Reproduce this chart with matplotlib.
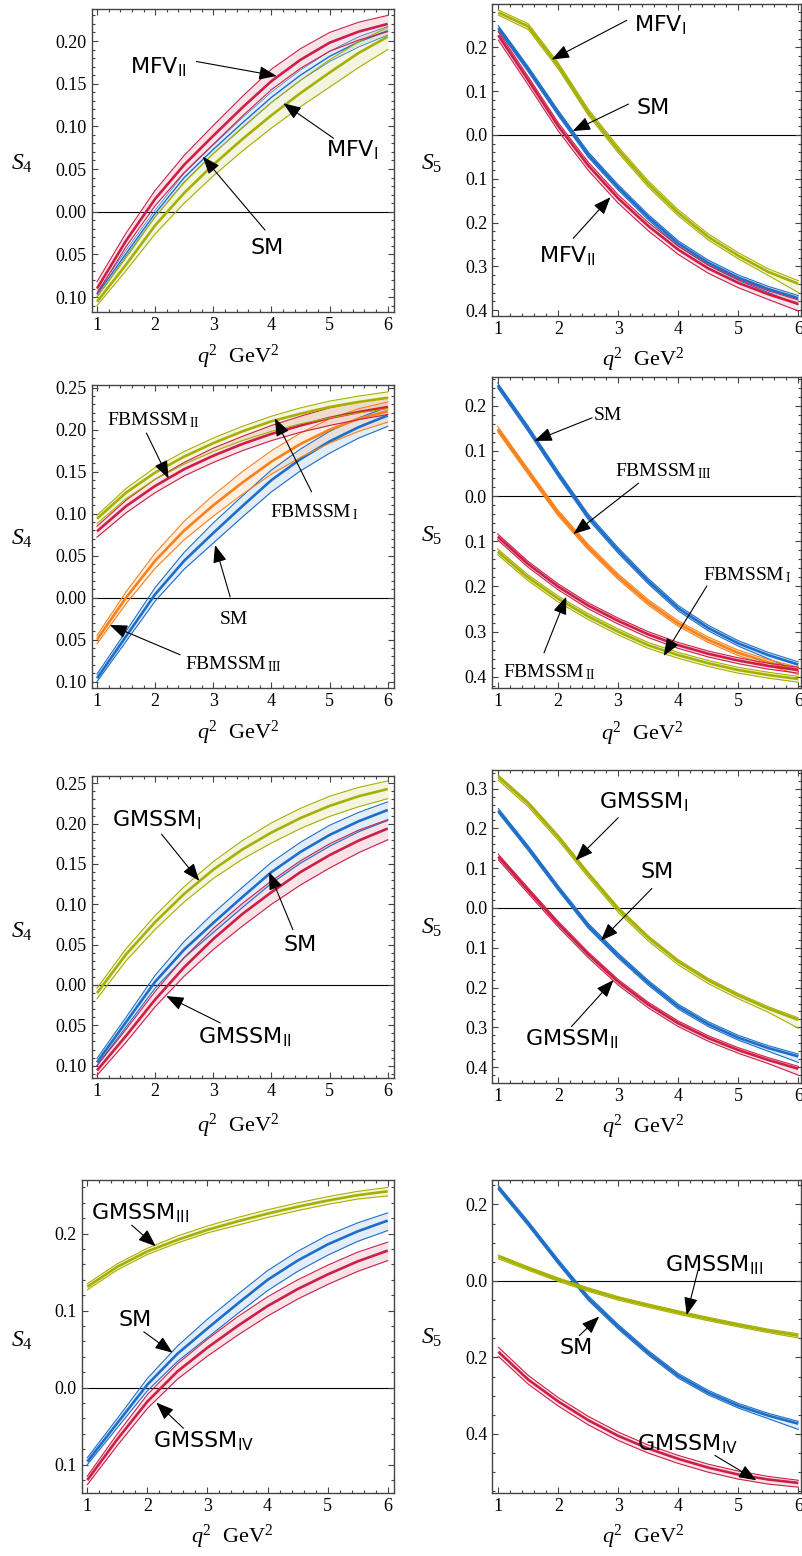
import matplotlib
matplotlib.use("Agg")
import matplotlib.pyplot as plt
from matplotlib.ticker import MultipleLocator

plt.rcParams['mathtext.fontset'] = 'custom'
plt.rcParams['mathtext.rm'] = 'Liberation Serif'
plt.rcParams['mathtext.it'] = 'Liberation Serif:italic'
plt.rcParams['mathtext.bf'] = 'Liberation Serif:bold'

# ---------------- data ----------------
Q = [1.0, 1.5, 2.0, 2.5, 3.0, 3.5, 4.0, 4.5, 5.0, 5.5, 6.0]

# SM S4 (shared, panels 3,5,7)
SM4_LO = [-0.100, -0.052, -0.004, 0.034, 0.065, 0.096, 0.126, 0.151, 0.172, 0.190, 0.204]
SM4_MID = [-0.096, -0.046, 0.004, 0.044, 0.077, 0.109, 0.140, 0.165, 0.186, 0.203, 0.217]
SM4_HI = [-0.091, -0.040, 0.012, 0.054, 0.089, 0.121, 0.152, 0.177, 0.198, 0.214, 0.227]
# SM S5 (shared, panels 2,4,6,8)
SM5_LO = [0.239, 0.144, 0.044, -0.051, -0.126, -0.194, -0.254, -0.298, -0.332, -0.360, -0.388]
SM5_MID = [0.245, 0.150, 0.050, -0.045, -0.120, -0.188, -0.248, -0.292, -0.326, -0.352, -0.373]
SM5_HI = [0.250, 0.156, 0.056, -0.039, -0.114, -0.182, -0.242, -0.286, -0.320, -0.346, -0.367]

# Panel 1: S4, MFV
P1_SM_LO = [-0.100, -0.052, -0.006, 0.035, 0.068, 0.098, 0.128, 0.154, 0.176, 0.193, 0.207]
P1_SM_MID = [-0.097, -0.049, -0.002, 0.040, 0.073, 0.104, 0.134, 0.160, 0.182, 0.199, 0.212]
P1_SM_HI = [-0.094, -0.045, 0.002, 0.045, 0.078, 0.110, 0.140, 0.166, 0.188, 0.205, 0.217]
P1_MFV1_LO = [-0.110, -0.069, -0.026, 0.010, 0.042, 0.071, 0.098, 0.123, 0.146, 0.169, 0.190]
P1_MFV1_MID = [-0.1055, -0.062, -0.016, 0.022, 0.055, 0.085, 0.113, 0.139, 0.163, 0.186, 0.205]
P1_MFV1_HI = [-0.100, -0.054, -0.006, 0.034, 0.068, 0.099, 0.128, 0.154, 0.178, 0.199, 0.216]
P1_MFV2_LO = [-0.096, -0.041, 0.007, 0.046, 0.079, 0.112, 0.143, 0.168, 0.188, 0.201, 0.211]
P1_MFV2_MID = [-0.090, -0.034, 0.015, 0.055, 0.089, 0.122, 0.153, 0.178, 0.198, 0.211, 0.220]
P1_MFV2_HI = [-0.082, -0.025, 0.025, 0.066, 0.101, 0.135, 0.167, 0.191, 0.210, 0.222, 0.230]

# Panel 2: S5, MFV
P2_MFV1_LO = [0.274, 0.241, 0.151, 0.045, -0.041, -0.119, -0.185, -0.240, -0.283, -0.321, -0.360]
P2_MFV1_MID = [0.280, 0.248, 0.158, 0.052, -0.034, -0.112, -0.178, -0.233, -0.276, -0.313, -0.340]
P2_MFV1_HI = [0.286, 0.254, 0.165, 0.059, -0.027, -0.105, -0.171, -0.226, -0.269, -0.306, -0.333]
P2_MFV2_LO = [0.217, 0.114, 0.009, -0.081, -0.156, -0.219, -0.273, -0.316, -0.349, -0.376, -0.402]
P2_MFV2_MID = [0.228, 0.125, 0.020, -0.070, -0.145, -0.208, -0.262, -0.305, -0.338, -0.364, -0.386]
P2_MFV2_HI = [0.236, 0.133, 0.028, -0.062, -0.137, -0.200, -0.254, -0.297, -0.330, -0.356, -0.377]

# Panel 3: S4, FBMSSM
P3_G_LO = [0.088, 0.118, 0.141, 0.159, 0.174, 0.187, 0.198, 0.207, 0.214, 0.220, 0.225]
P3_G_MID = [0.094, 0.125, 0.149, 0.168, 0.184, 0.198, 0.210, 0.219, 0.227, 0.233, 0.238]
P3_G_HI = [0.098, 0.130, 0.155, 0.174, 0.190, 0.204, 0.216, 0.226, 0.234, 0.240, 0.245]
P3_R_LO = [0.072, 0.101, 0.125, 0.145, 0.161, 0.175, 0.187, 0.197, 0.205, 0.212, 0.218]
P3_R_MID = [0.079, 0.109, 0.133, 0.153, 0.169, 0.183, 0.195, 0.205, 0.214, 0.221, 0.227]
P3_R_HI = [0.085, 0.116, 0.141, 0.161, 0.178, 0.192, 0.205, 0.216, 0.226, 0.233, 0.238]
P3_O_LO = [-0.055, -0.007, 0.035, 0.069, 0.097, 0.123, 0.147, 0.167, 0.184, 0.198, 0.209]
P3_O_MID = [-0.050, 0.000, 0.044, 0.080, 0.110, 0.137, 0.162, 0.183, 0.200, 0.213, 0.222]
P3_O_HI = [-0.045, 0.007, 0.053, 0.091, 0.122, 0.150, 0.175, 0.196, 0.213, 0.225, 0.233]

# Panel 4: S5, FBMSSM
P4_O_LO = [0.142, 0.049, -0.043, -0.118, -0.184, -0.241, -0.288, -0.324, -0.353, -0.375, -0.395]
P4_O_MID = [0.148, 0.055, -0.037, -0.112, -0.178, -0.235, -0.282, -0.318, -0.347, -0.368, -0.385]
P4_O_HI = [0.154, 0.061, -0.031, -0.106, -0.172, -0.229, -0.276, -0.312, -0.341, -0.362, -0.379]
P4_R_LO = [-0.097, -0.157, -0.207, -0.249, -0.283, -0.313, -0.337, -0.356, -0.371, -0.383, -0.392]
P4_R_MID = [-0.090, -0.150, -0.200, -0.242, -0.276, -0.306, -0.330, -0.349, -0.364, -0.376, -0.385]
P4_R_HI = [-0.084, -0.144, -0.194, -0.236, -0.270, -0.300, -0.324, -0.343, -0.358, -0.370, -0.379]
P4_G_LO = [-0.130, -0.187, -0.234, -0.273, -0.307, -0.337, -0.359, -0.377, -0.392, -0.403, -0.412]
P4_G_MID = [-0.123, -0.180, -0.227, -0.266, -0.300, -0.330, -0.352, -0.370, -0.385, -0.396, -0.405]
P4_G_HI = [-0.117, -0.174, -0.221, -0.260, -0.294, -0.324, -0.346, -0.364, -0.379, -0.390, -0.399]

# Panel 5: S4, GMSSM I/II
P5_G_LO = [-0.017, 0.030, 0.069, 0.103, 0.132, 0.156, 0.176, 0.194, 0.209, 0.221, 0.231]
P5_G_MID = [-0.010, 0.038, 0.078, 0.113, 0.143, 0.168, 0.189, 0.207, 0.222, 0.234, 0.243]
P5_G_HI = [-0.004, 0.045, 0.086, 0.122, 0.153, 0.179, 0.201, 0.219, 0.234, 0.245, 0.253]
P5_R_LO = [-0.112, -0.071, -0.027, 0.011, 0.044, 0.073, 0.100, 0.124, 0.145, 0.164, 0.180]
P5_R_MID = [-0.106, -0.063, -0.018, 0.022, 0.057, 0.088, 0.115, 0.140, 0.161, 0.179, 0.194]
P5_R_HI = [-0.100, -0.055, -0.008, 0.034, 0.070, 0.101, 0.129, 0.154, 0.175, 0.192, 0.205]

# Panel 6: S5, GMSSM I/II
P6_G_LO = [0.321, 0.254, 0.170, 0.077, -0.011, -0.083, -0.143, -0.190, -0.228, -0.262, -0.302]
P6_G_MID = [0.329, 0.262, 0.178, 0.085, -0.003, -0.075, -0.135, -0.182, -0.220, -0.253, -0.281]
P6_G_HI = [0.334, 0.267, 0.183, 0.090, 0.002, -0.070, -0.130, -0.177, -0.215, -0.248, -0.276]
P6_R_LO = [0.121, 0.036, -0.048, -0.125, -0.194, -0.251, -0.298, -0.335, -0.365, -0.391, -0.420]
P6_R_MID = [0.129, 0.044, -0.040, -0.117, -0.186, -0.243, -0.290, -0.327, -0.357, -0.382, -0.404]
P6_R_HI = [0.135, 0.050, -0.034, -0.111, -0.180, -0.237, -0.284, -0.321, -0.351, -0.376, -0.398]

# Panel 7: S4, GMSSM III/IV
P7_G_LO = [0.127, 0.153, 0.173, 0.188, 0.201, 0.211, 0.221, 0.230, 0.238, 0.245, 0.249]
P7_G_MID = [0.131, 0.157, 0.177, 0.192, 0.205, 0.216, 0.226, 0.235, 0.243, 0.250, 0.255]
P7_G_HI = [0.135, 0.161, 0.181, 0.197, 0.210, 0.221, 0.231, 0.240, 0.248, 0.255, 0.260]
P7_R_LO = [-0.126, -0.075, -0.027, 0.011, 0.041, 0.068, 0.093, 0.115, 0.134, 0.151, 0.165]
P7_R_MID = [-0.120, -0.067, -0.018, 0.021, 0.052, 0.080, 0.106, 0.128, 0.147, 0.164, 0.178]
P7_R_HI = [-0.115, -0.060, -0.009, 0.031, 0.063, 0.092, 0.118, 0.140, 0.159, 0.176, 0.189]

# Panel 8: S5, GMSSM III/IV
P8_G_LO = [0.058, 0.028, -0.001, -0.027, -0.050, -0.069, -0.087, -0.104, -0.120, -0.135, -0.149]
P8_G_MID = [0.064, 0.033, 0.004, -0.022, -0.045, -0.064, -0.082, -0.099, -0.115, -0.130, -0.143]
P8_G_HI = [0.068, 0.037, 0.008, -0.018, -0.041, -0.060, -0.078, -0.095, -0.111, -0.126, -0.138]
P8_R_LO = [-0.197, -0.270, -0.327, -0.376, -0.417, -0.450, -0.477, -0.500, -0.518, -0.531, -0.539]
P8_R_MID = [-0.185, -0.258, -0.315, -0.364, -0.405, -0.438, -0.465, -0.488, -0.506, -0.519, -0.528]
P8_R_HI = [-0.173, -0.247, -0.305, -0.354, -0.395, -0.429, -0.456, -0.479, -0.497, -0.511, -0.521]

# tick values and labels
X_TICKS = [1, 2, 3, 4, 5, 6]
X_LABELS = ["1", "2", "3", "4", "5", "6"]
YT_A = [-0.10, -0.05, 0.00, 0.05, 0.10, 0.15, 0.20]
YL_A = ["0.10", "0.05", "0.00", "0.05", "0.10", "0.15", "0.20"]
YT_B = [-0.4, -0.3, -0.2, -0.1, 0.0, 0.1, 0.2]
YL_B = ["0.4", "0.3", "0.2", "0.1", "0.0", "0.1", "0.2"]
YT_C = [-0.10, -0.05, 0.00, 0.05, 0.10, 0.15, 0.20, 0.25]
YL_C = ["0.10", "0.05", "0.00", "0.05", "0.10", "0.15", "0.20", "0.25"]
YT_D = [-0.4, -0.3, -0.2, -0.1, 0.0, 0.1, 0.2, 0.3]
YL_D = ["0.4", "0.3", "0.2", "0.1", "0.0", "0.1", "0.2", "0.3"]
YT_E = [-0.1, 0.0, 0.1, 0.2]
YL_E = ["0.1", "0.0", "0.1", "0.2"]
YT_F = [-0.4, -0.2, 0.0, 0.2]
YL_F = ["0.4", "0.2", "0.0", "0.2"]

# ---------------- style ----------------
BLUE = "#1E6EC8"
RED = "#CC1F48"
GREEN = "#A6B000"
ORANGE = "#F9811A"
SERIF = "Liberation Serif"
SANS = "DejaVu Sans"

W, H = 802, 1556
fig = plt.figure(figsize=(W / 100, H / 100), dpi=100)


def add_axes(left, right, top, bottom):
    return fig.add_axes([left / W, 1 - bottom / H, (right - left) / W, (bottom - top) / H])


def band(ax, lo, mid, hi, color, lw_mid=1.9, lw_edge=0.8):
    ax.fill_between(Q, lo, hi, color=color, alpha=0.12, lw=0, zorder=2)
    ax.plot(Q, lo, color=color, lw=lw_edge, zorder=3)
    ax.plot(Q, hi, color=color, lw=lw_edge, zorder=3)
    ax.plot(Q, mid, color=color, lw=lw_mid, zorder=3, solid_capstyle='butt')


def arrow(ax, text, txy, start, tip, family, size):
    ax.text(txy[0], txy[1], text, family=family, fontsize=size,
            ha='center', va='center', zorder=6)
    ax.annotate('', xy=tip, xytext=start,
                arrowprops=dict(arrowstyle='-|>,head_length=0.9,head_width=0.35',
                                color='black', lw=0.8, shrinkA=0, shrinkB=0,
                                mutation_scale=12),
                zorder=6)


def style(ax, xlim, ylim, yt, yl, ymin, ylab, ylab_xy, xlab_xy):
    ax.set_xlim(*xlim)
    ax.set_ylim(*ylim)
    ax.axhline(0, color='black', lw=0.8, zorder=1)
    ax.set_xticks(X_TICKS)
    ax.set_xticklabels(X_LABELS)
    ax.set_yticks(yt)
    ax.set_yticklabels(yl)
    ax.xaxis.set_minor_locator(MultipleLocator(0.2))
    ax.yaxis.set_minor_locator(MultipleLocator(ymin))
    ax.tick_params(which='both', direction='in', top=True, right=True,
                   color='#444444', width=0.8)
    ax.tick_params(which='major', length=4.5, pad=3.5, labelsize=13)
    ax.tick_params(which='minor', length=2.3)
    for lab in ax.get_xticklabels() + ax.get_yticklabels():
        lab.set_family(SERIF)
    for sp in ax.spines.values():
        sp.set_color('#444444')
        sp.set_linewidth(1.0)
    ax.set_ylabel(ylab, family=SERIF, fontsize=17, rotation=0)
    ax.yaxis.set_label_coords(*ylab_xy)
    ax.yaxis.label.set_va('center')
    ax.yaxis.label.set_ha('center')
    ax.set_xlabel(r"$q^2$  GeV$^2$", family=SERIF, fontsize=16)
    ax.xaxis.set_label_coords(*xlab_xy)
    ax.xaxis.label.set_va('center')


S4 = r"$S_4$"
S5 = r"$S_5$"
XL_LEFT = (0.909, 6.108)
XL_RIGHT = (0.90, 6.037)
XL_P7 = (0.907, 6.11)

# ---- Panel 1 ----
ax = add_axes(91.7, 394, 9, 312)
band(ax, P1_SM_LO, P1_SM_MID, P1_SM_HI, BLUE, lw_mid=1.0, lw_edge=0.5)
band(ax, P1_MFV1_LO, P1_MFV1_MID, P1_MFV1_HI, GREEN)
band(ax, P1_MFV2_LO, P1_MFV2_MID, P1_MFV2_HI, RED)
style(ax, XL_LEFT, (-0.1175, 0.2375), YT_A, YL_A, 0.01, S4, (-0.231, 0.49), (0.484, -0.149))
arrow(ax, r"MFV$_{\mathregular{II}}$", (2.055, 0.170), (2.71, 0.176), (4.09, 0.159), SANS, 16)
arrow(ax, r"MFV$_{\mathregular{I}}$", (5.39, 0.0734), (5.07, 0.086), (4.205, 0.127), SANS, 16)
arrow(ax, "SM", (3.92, -0.042), (3.89, -0.0215), (2.82, 0.0645), SANS, 16)

# ---- Panel 2 ----
ax = add_axes(492.3, 800.5, 4, 316)
band(ax, SM5_LO, SM5_MID, SM5_HI, BLUE)
band(ax, P2_MFV2_LO, P2_MFV2_MID, P2_MFV2_HI, RED)
band(ax, P2_MFV1_LO, P2_MFV1_MID, P2_MFV1_HI, GREEN)
style(ax, XL_RIGHT, (-0.4137, 0.2994), YT_B, YL_B, 0.02, S5, (-0.196, 0.487), (0.489, -0.141))
arrow(ax, r"MFV$_{\mathregular{I}}$", (3.69, 0.253), (3.14, 0.262), (1.89, 0.1725), SANS, 16)
arrow(ax, "SM", (3.58, 0.061), (3.17, 0.0707), (2.24, 0.009), SANS, 16)
arrow(ax, r"MFV$_{\mathregular{II}}$", (2.15, -0.275), (2.25, -0.236), (2.87, -0.142), SANS, 16)

# ---- Panel 3 ----
ax = add_axes(91.7, 394, 385, 688.3)
band(ax, SM4_LO, SM4_MID, SM4_HI, BLUE)
band(ax, P3_O_LO, P3_O_MID, P3_O_HI, ORANGE)
band(ax, P3_R_LO, P3_R_MID, P3_R_HI, RED)
band(ax, P3_G_LO, P3_G_MID, P3_G_HI, GREEN)
style(ax, XL_LEFT, (-0.1079, 0.2532), YT_C, YL_C, 0.01, S4, (-0.231, 0.492), (0.484, -0.147))
arrow(ax, r"FBMSSM$_{\,\mathregular{II}}$", (1.96, 0.2115), (1.85, 0.196), (2.23, 0.142), SERIF, 14)
arrow(ax, r"FBMSSM$_{\,\mathregular{I}}$", (4.73, 0.102), (4.69, 0.126), (4.06, 0.2135), SERIF, 14)
arrow(ax, "SM", (3.36, -0.026), (3.29, 0.001), (3.03, 0.0627), SERIF, 14)
arrow(ax, r"FBMSSM$_{\,\mathregular{III}}$", (3.35, -0.079), (2.43, -0.068), (1.22, -0.0325), SERIF, 14)

# ---- Panel 4 ----
ax = add_axes(491.7, 800.5, 376.7, 688.3)
band(ax, SM5_LO, SM5_MID, SM5_HI, BLUE)
band(ax, P4_O_LO, P4_O_MID, P4_O_HI, ORANGE)
band(ax, P4_G_LO, P4_G_MID, P4_G_HI, GREEN)
band(ax, P4_R_LO, P4_R_MID, P4_R_HI, RED)
style(ax, XL_RIGHT, (-0.4255, 0.264), YT_B, YL_B, 0.02, S5, (-0.196, 0.489), (0.487, -0.147))
arrow(ax, "SM", (2.84, 0.178), (2.57, 0.173), (1.61, 0.122), SERIF, 14)
arrow(ax, r"FBMSSM$_{\,\mathregular{III}}$", (3.76, 0.056), (3.34, 0.028), (2.26, -0.084), SERIF, 14)
arrow(ax, r"FBMSSM$_{\,\mathregular{I}}$", (5.15, -0.175), (4.48, -0.199), (3.76, -0.354), SERIF, 14)
arrow(ax, r"FBMSSM$_{\,\mathregular{II}}$", (1.85, -0.389), (1.77, -0.347), (2.14, -0.223), SERIF, 14)

# ---- Panel 5 ----
ax = add_axes(91.7, 394, 776, 1078.3)
band(ax, SM4_LO, SM4_MID, SM4_HI, BLUE)
band(ax, P5_R_LO, P5_R_MID, P5_R_HI, RED)
band(ax, P5_G_LO, P5_G_MID, P5_G_HI, GREEN)
style(ax, XL_LEFT, (-0.1157, 0.2591), YT_C, YL_C, 0.01, S4, (-0.231, 0.484), (0.484, -0.158))
arrow(ax, r"GMSSM$_{\mathregular{I}}$", (2.03, 0.2056), (2.11, 0.187), (2.76, 0.129), SANS, 16)
arrow(ax, "SM", (4.49, 0.0498), (4.37, 0.0685), (3.96, 0.14), SANS, 16)
arrow(ax, r"GMSSM$_{\mathregular{II}}$", (3.55, -0.0635), (3.12, -0.047), (2.19, -0.0137), SANS, 16)

# ---- Panel 6 ----
ax = add_axes(492.3, 800.5, 770, 1082.7)
band(ax, SM5_LO, SM5_MID, SM5_HI, BLUE)
band(ax, P6_R_LO, P6_R_MID, P6_R_HI, RED)
band(ax, P6_G_LO, P6_G_MID, P6_G_HI, GREEN)
style(ax, XL_RIGHT, (-0.439, 0.3467), YT_D, YL_D, 0.02, S5, (-0.196, 0.495), (0.489, -0.142))
arrow(ax, r"GMSSM$_{\mathregular{I}}$", (3.42, 0.267), (3.0, 0.227), (2.29, 0.120), SANS, 16)
arrow(ax, "SM", (3.64, 0.090), (3.56, 0.049), (2.71, -0.082), SANS, 16)
arrow(ax, r"GMSSM$_{\mathregular{II}}$", (2.23, -0.327), (2.22, -0.298), (2.92, -0.181), SANS, 16)

# ---- Panel 7 ----
ax = add_axes(81.7, 394.3, 1180, 1492.7)
band(ax, SM4_LO, SM4_MID, SM4_HI, BLUE)
band(ax, P7_R_LO, P7_R_MID, P7_R_HI, RED)
band(ax, P7_G_LO, P7_G_MID, P7_G_HI, GREEN)
style(ax, XL_P7, (-0.1364, 0.2697), YT_E, YL_E, 0.02, S4, (-0.191, 0.485), (0.481, -0.142))
arrow(ax, r"GMSSM$_{\mathregular{III}}$", (1.88, 0.228), (1.74, 0.211), (2.14, 0.1836), SANS, 16)
arrow(ax, "SM", (1.79, 0.0877), (1.94, 0.0726), (2.42, 0.0454), SANS, 16)
arrow(ax, r"GMSSM$_{\mathregular{IV}}$", (2.93, -0.068), (2.60, -0.0527), (2.15, -0.0194), SANS, 16)

# ---- Panel 8 ----
ax = add_axes(492.3, 800.5, 1180, 1492.7)
band(ax, SM5_LO, SM5_MID, SM5_HI, BLUE)
band(ax, P8_R_LO, P8_R_MID, P8_R_HI, RED)
band(ax, P8_G_LO, P8_G_MID, P8_G_HI, GREEN)
style(ax, XL_RIGHT, (-0.5535, 0.264), YT_F, YL_F, 0.05, S5, (-0.196, 0.495), (0.489, -0.142))
arrow(ax, r"GMSSM$_{\mathregular{III}}$", (4.59, 0.042), (4.33, 0.029), (4.14, -0.089), SANS, 16)
arrow(ax, "SM", (2.29, -0.174), (2.35, -0.143), (2.68, -0.093), SANS, 16)
arrow(ax, r"GMSSM$_{\mathregular{IV}}$", (4.16, -0.425), (4.61, -0.456), (5.30, -0.521), SANS, 16)

fig.savefig("out.png", dpi=100)
